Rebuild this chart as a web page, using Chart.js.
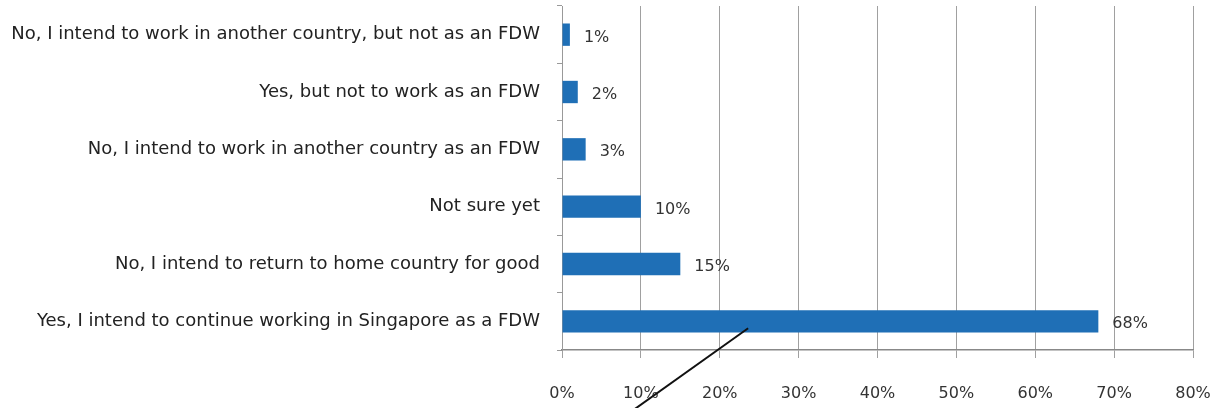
<!DOCTYPE html>
<html>
<head>
<meta charset="utf-8">
<script src="https://cdn.jsdelivr.net/npm/chart.js@4/dist/chart.umd.min.js"></script>
<style>
  html, body { margin: 0; padding: 0; background: #fff; }
  #wrap { width: 1221px; height: 408px; }
</style>
</head>
<body>
<div id="wrap"><canvas id="c" width="1221" height="408"></canvas></div>
<script>
const categories = [
  "No, I intend to work in another country, but not as an FDW",
  "Yes, but not to work as an FDW",
  "No, I intend to work in another country as an FDW",
  "Not sure yet",
  "No, I intend to return to home country for good",
  "Yes, I intend to continue working in Singapore as a FDW"
];
const percentages = [1, 2, 3, 10, 15, 68];
const xTicks = [0, 10, 20, 30, 40, 50, 60, 70, 80];

const FONT = "'DejaVu Sans', 'Liberation Sans', sans-serif";

const valueLabels = {
  id: 'valueLabels',
  afterDatasetsDraw(chart) {
    const ctx = chart.ctx;
    const meta = chart.getDatasetMeta(0);
    ctx.save();
    ctx.font = "16px " + FONT;
    ctx.fillStyle = '#333';
    ctx.textAlign = 'left';
    ctx.textBaseline = 'middle';
    meta.data.forEach((bar, i) => {
      ctx.fillText(percentages[i] + '%', bar.x + 14, bar.y + 3);
    });
    ctx.restore();
  }
};

// hand-drawn pen stroke on the scanned original (in scale units)
const penStroke = {
  id: 'penStroke',
  afterDraw(chart) {
    const x = chart.scales.x, y = chart.scales.y;
    const ctx = chart.ctx;
    ctx.save();
    ctx.strokeStyle = '#111';
    ctx.lineWidth = 2;
    ctx.beginPath();
    ctx.moveTo(x.getPixelForValue(23.6), y.getPixelForValue(5.12));
    ctx.lineTo(x.getPixelForValue(8.0), y.getPixelForValue(6.65));
    ctx.stroke();
    ctx.restore();
  }
};

new Chart(document.getElementById('c'), {
  type: 'bar',
  data: {
    labels: categories,
    datasets: [{
      data: percentages,
      backgroundColor: '#1f6fb6',
      borderWidth: 0,
      barPercentage: 0.39,
      categoryPercentage: 1.0
    }]
  },
  options: {
    indexAxis: 'y',
    responsive: false,
    animation: false,
    devicePixelRatio: 1,
    layout: { padding: { left: 0, right: 28, top: 6, bottom: 4 } },
    plugins: { legend: { display: false }, tooltip: { enabled: false } },
    scales: {
      x: {
        min: 0, max: 80,
        afterBuildTicks(scale) { scale.ticks = xTicks.map(v => ({ value: v })); },
        afterFit(scale) {
          scale.paddingLeft = 0; scale.paddingRight = 0;
          scale.paddingTop = 0; scale.paddingBottom = 0;
          scale.height = 54;
        },
        ticks: {
          callback: v => v + '%',
          font: { family: FONT, size: 16 },
          color: '#333',
          padding: 26
        },
        grid: { color: '#a0a0a0', lineWidth: 1, tickLength: 8, drawTicks: true },
        border: { display: true, color: '#888', width: 1.5 }
      },
      y: {
        afterFit(scale) { scale.width = 562; scale.paddingTop = 0; scale.paddingBottom = 0; },
        ticks: {
          font: { family: FONT, size: 18 },
          color: '#222',
          padding: 17
        },
        grid: { display: true, drawOnChartArea: false, tickLength: 5, color: '#999', offset: true },
        border: { display: true, color: '#999', width: 1 }
      }
    }
  },
  plugins: [valueLabels, penStroke]
});
</script>
</body>
</html>
